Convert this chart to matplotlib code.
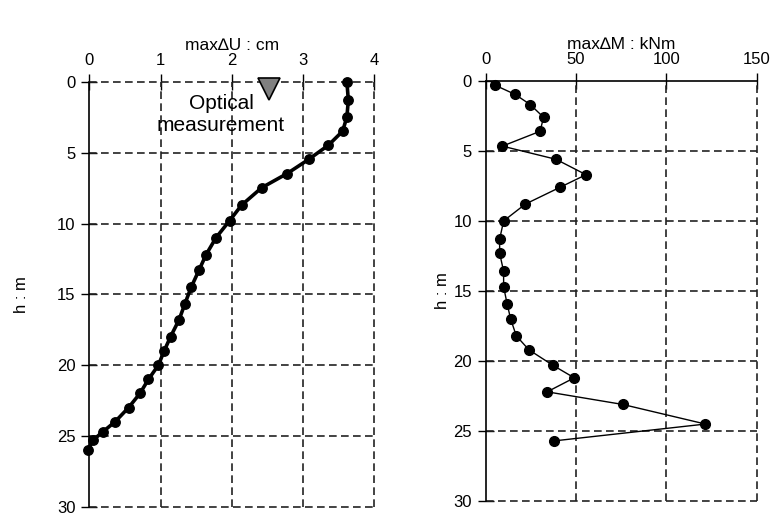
import matplotlib
matplotlib.use("Agg")
import matplotlib.pyplot as plt

plt.rcParams['font.family'] = ['Liberation Sans', 'DejaVu Sans']
plt.rcParams['font.size'] = 12

# Left panel: max displacement (cm) vs depth (m)
u_cm = [3.62, 3.64, 3.62, 3.56, 3.36, 3.08, 2.78, 2.42, 2.14, 1.97, 1.78, 1.64, 1.54,
        1.43, 1.34, 1.26, 1.14, 1.05, 0.97, 0.83, 0.71, 0.55, 0.36, 0.19, 0.05, -0.02]
u_h = [0.0, 1.29, 2.47, 3.48, 4.47, 5.48, 6.47, 7.48, 8.7, 9.8, 11.0, 12.2, 13.3,
       14.5, 15.7, 16.8, 18.0, 19.0, 20.0, 21.0, 22.0, 23.0, 24.0, 24.7, 25.3, 26.0]

# Right panel: max moment (kNm) vs depth (m)
m_knm = [5.0, 16.3, 24.6, 32.0, 30.1, 9.2, 38.9, 55.5, 41.1, 21.9, 9.9, 7.7, 7.7,
         9.9, 9.9, 11.8, 13.8, 16.9, 23.9, 37.1, 49.0, 34.0, 75.8, 121.6, 38.0]
m_h = [0.3, 0.97, 1.69, 2.6, 3.6, 4.66, 5.6, 6.7, 7.6, 8.8, 10.0, 11.3, 12.3,
       13.6, 14.7, 15.9, 17.0, 18.2, 19.2, 20.3, 21.2, 22.2, 23.1, 24.5, 25.7]

optical_x = [2.53]
optical_h = [0.52]

u_ticks = [0, 1, 2, 3, 4]
m_ticks = [0, 50, 100, 150]
h_ticks = [0, 5, 10, 15, 20, 25, 30]

fig = plt.figure(figsize=(7.71, 5.15), dpi=100)
ax1 = fig.add_axes([0.116, 0.016, 0.369, 0.825])
ax2 = fig.add_axes([0.630, 0.027, 0.3515, 0.816])

grid_kw = dict(color='#222222', linestyle=(0, (4.6, 2.6)), linewidth=1.2, clip_on=False)

for ax in (ax1, ax2):
    ax.set_ylim(30, 0)
    ax.set_yticks(h_ticks)
    ax.xaxis.tick_top()
    ax.xaxis.set_label_position('top')
    ax.tick_params(axis='both', direction='inout', length=12, width=1, colors='black',
                   labelsize=12, pad=4)
    ax.spines['right'].set_visible(False)
    ax.spines['bottom'].set_visible(False)
    ax.spines['left'].set_linewidth(1.2)
    ax.set_axisbelow(True)

ax1.set_ylabel('h : m', fontsize=12, labelpad=20)
ax2.set_ylabel('h : m', fontsize=12, labelpad=2)

ax1.set_xlim(0, 4)
ax1.set_xticks(u_ticks)
ax1.spines['top'].set_visible(False)
for t in u_ticks[1:]:
    ax1.axvline(t, **grid_kw, zorder=1)
for t in h_ticks:
    ax1.axhline(t, **grid_kw, zorder=1)
ax1.set_title('max\u2206U : cm', fontsize=12.5, pad=1.5)

ax2.set_xlim(0, 150)
ax2.set_xticks(m_ticks)
ax2.spines['top'].set_linewidth(1.2)
for t in m_ticks[1:]:
    ax2.axvline(t, **grid_kw, zorder=1)
for t in h_ticks[1:]:
    ax2.axhline(t, **grid_kw, zorder=1)
ax2.set_title('max\u2206M : kNm', fontsize=12.5, pad=1.5)

for ax in (ax1, ax2):
    for s in ax.spines.values():
        s.set_zorder(3)

ax1.plot(u_cm, u_h, color='black', linewidth=2.6, marker='o', markersize=6.8,
         clip_on=False, zorder=4)
ax2.plot(m_knm, m_h, color='black', linewidth=1.0, marker='o', markersize=7,
         clip_on=False, zorder=4)

ax1.plot(optical_x, optical_h, marker='v', markersize=16, markerfacecolor='#808080',
         markeredgecolor='black', markeredgewidth=1.2, linestyle='none', zorder=5,
         clip_on=False)
ax1.text(1.85, 2.3, 'Optical\nmeasurement', ha='center', va='center', fontsize=15,
         linespacing=1.2, zorder=6)

fig.savefig('out.png', dpi=100)
